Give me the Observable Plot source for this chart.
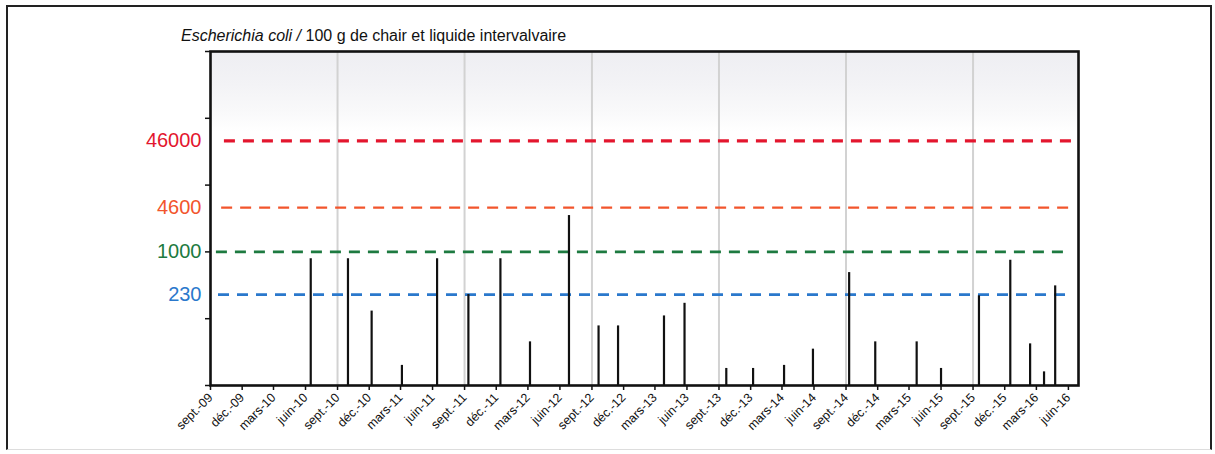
<!DOCTYPE html>
<html>
<head>
<meta charset="utf-8">
<script src="https://cdn.jsdelivr.net/npm/d3@7"></script>
<script src="https://cdn.jsdelivr.net/npm/@observablehq/plot@0.6"></script>
<style>
  html, body { margin: 0; padding: 0; background: #fff; }
  #wrap { position: relative; width: 1215px; height: 454px; overflow: hidden; font-family: "Liberation Sans", Arial, sans-serif; }
  #border { position: absolute; left: 6px; top: 5px; width: 1206px; height: 445px; border-left: 2px solid #222; border-top: 2px solid #222; border-right: 2px solid #222; border-bottom: 1px solid #ddd; box-sizing: border-box; }
  #title { position: absolute; left: 181px; top: 28px; font-size: 16px; line-height: 16px; color: #111; white-space: nowrap; }
  #chart { position: absolute; left: 0; top: 0; }
</style>
</head>
<body>
<div id="wrap">
  <div id="border"></div>
  <div id="title"><i>Escherichia coli /</i> 100 g de chair et liquide intervalvaire</div>
  <div id="chart"></div>
</div>
<script>
// Sample dates and E. coli values (per 100 g)
const sampleDates = [
  "2010-06-16","2010-10-01","2010-12-08","2011-03-05","2011-06-14","2011-09-12",
  "2011-12-13","2012-03-07","2012-06-27","2012-09-20","2012-11-15","2013-03-27",
  "2013-05-25","2013-09-22","2013-12-08","2014-03-07","2014-05-29","2014-09-10",
  "2014-11-24","2015-03-23","2015-06-01","2015-09-18","2015-12-17","2016-02-12",
  "2016-03-23","2016-04-24"
];
const sampleValues = [
  790, 790, 130, 20, 790, 230,
  790, 45, 3500, 78, 78, 110,
  170, 18, 18, 20, 35, 490,
  45, 45, 18, 220, 750, 42,
  16, 310
];

// Threshold lines
const thresholdValues = [46000, 4600, 1000, 230];
const thresholdLabels = ["46000", "4600", "1000", "230"];
const thresholdColors = ["#e3162e", "#f2552c", "#1d7a40", "#2a78cc"];
const thresholdStarts = ["2009-10-11", "2009-10-03", "2009-09-18", "2009-09-24"];
const thresholdEnds = ["2016-06-22", "2016-06-22", "2016-06-02", "2016-06-02"];
const thresholdWidths = [3.2, 2.4, 2.8, 2.8];

// Axis ticks
const tickStart = "2009-09-01";
const tickLabels = [
  "sept.-09","déc.-09","mars-10","juin-10","sept.-10","déc.-10","mars-11","juin-11",
  "sept.-11","déc.-11","mars-12","juin-12","sept.-12","déc.-12","mars-13","juin-13",
  "sept.-13","déc.-13","mars-14","juin-14","sept.-14","déc.-14","mars-15","juin-15",
  "sept.-15","déc.-15","mars-16","juin-16"
];
const gridDates = ["2010-09-01","2011-09-01","2012-09-01","2013-09-01","2014-09-01","2015-09-01"];
const xDomain = ["2009-09-01", "2016-06-30"];
const yDomain = [10, 1000000];
const yTicks = [10, 100, 1000, 10000, 100000, 1000000];

const parse = d3.utcParse("%Y-%m-%d");
const samples = sampleDates.map((d, i) => ({date: parse(d), value: sampleValues[i]}));
const thresholds = thresholdValues.map((v, i) => ({
  value: v, label: thresholdLabels[i], color: thresholdColors[i],
  start: parse(thresholdStarts[i]), end: parse(thresholdEnds[i]), width: thresholdWidths[i]
}));
const t0 = parse(tickStart);
const tickDates = tickLabels.map((_, i) => d3.utcMonth.offset(t0, 3 * i));
const labelOf = new Map(tickDates.map((d, i) => [+d, tickLabels[i]]));

const chart = Plot.plot({
  width: 1215,
  height: 454,
  marginLeft: 210,
  marginRight: 137,
  marginTop: 51,
  marginBottom: 69,
  style: {fontFamily: "'Liberation Sans', Arial, sans-serif", background: "transparent", overflow: "visible"},
  x: {type: "utc", domain: xDomain.map(parse)},
  y: {type: "log", domain: yDomain},
  marks: [
    Plot.frame({fill: "url(#bggrad)", stroke: null}),
    Plot.ruleX(gridDates.map(parse), {stroke: "#d2d2d2", strokeWidth: 2}),
    Plot.ruleY(thresholds, {
      y: "value", x1: "start", x2: "end", stroke: "color",
      strokeWidth: "width", strokeDasharray: "11,8"
    }),
    Plot.ruleX(samples, {x: "date", y1: yDomain[0], y2: "value", stroke: "#111", strokeWidth: 2.2}),
    Plot.text(thresholds, {
      y: "value", text: "label", fill: "color", frameAnchor: "left",
      textAnchor: "end", dx: -9, fontSize: 20
    }),
    Plot.axisY({ticks: yTicks, tickFormat: () => "", tickSize: 5, label: null, stroke: "#111", strokeWidth: 1.5}),
    Plot.axisX({
      ticks: tickDates, tickFormat: d => labelOf.get(+d), tickRotate: -45,
      tickSize: 5, tickPadding: 5, fontSize: 12.5, label: null, stroke: "#111", strokeWidth: 1.5, fill: "#111"
    }),
    Plot.frame({stroke: "#111", strokeWidth: 2.6})
  ]
});

const svg = d3.select(chart);
const defs = svg.insert("defs", ":first-child");
const grad = defs.append("linearGradient").attr("id", "bggrad")
  .attr("x1", 0).attr("y1", 0).attr("x2", 0).attr("y2", 1);
[["0%", "#eeeef2"], ["10%", "#f3f3f6"], ["18%", "#f9f9fa"], ["24%", "#ffffff"], ["100%", "#ffffff"]]
  .forEach(([o, c]) => grad.append("stop").attr("offset", o).attr("stop-color", c));

document.getElementById("chart").appendChild(chart);
</script>
</body>
</html>
